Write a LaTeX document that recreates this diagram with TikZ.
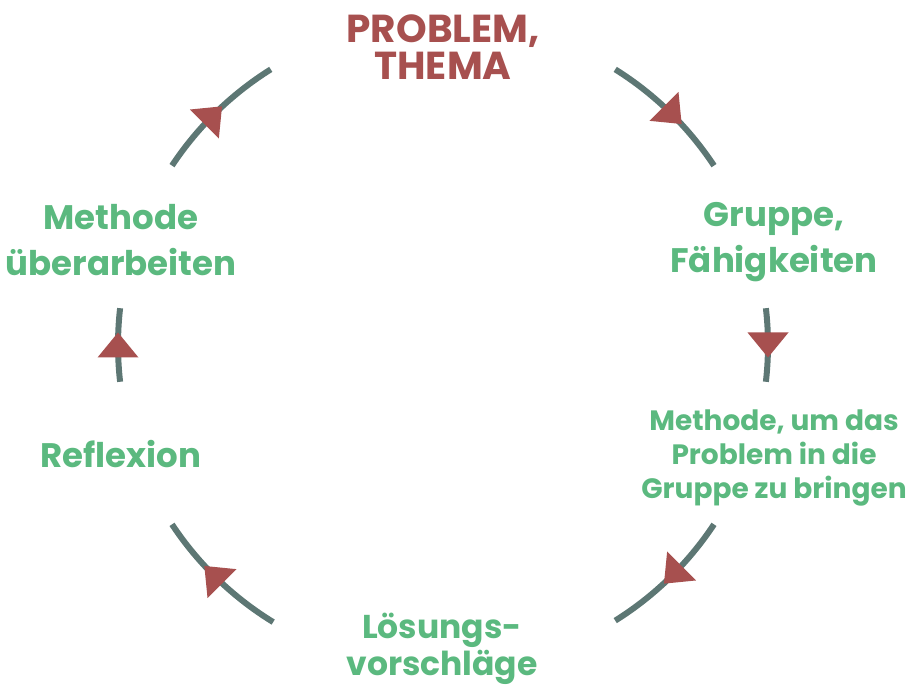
\documentclass[tikz,border=0pt]{standalone}
\usepackage{fontspec}
\setmainfont{Poppins}
\definecolor{gris}{HTML}{5D7774}
\definecolor{rojo}{HTML}{A7504F}
\definecolor{verde}{HTML}{5BB97F}
\tikzset{
  ciclo/.style={line width=6pt, draw=gris},
  flecha/.style={fill=rojo},
  etiqueta/.style={font=\bfseries\fontsize{34}{46}\selectfont, text=verde, align=center, inner sep=0pt},
  titulo/.style={etiqueta, font=\bfseries\fontsize{39}{37}\selectfont, text=rojo},
  detalle/.style={etiqueta, font=\bfseries\fontsize{28}{34}\selectfont}
}
\begin{document}
\begin{tikzpicture}[x=1pt,y=1pt]
  \useasboundingbox (0,0) rectangle (913,690);
  \coordinate (centro) at (443,345);

  % Dibujar los arcos del ciclo
  \foreach \a/\b in {58/33.5, 6.5/-6.5, -33.5/-58, -121.5/-146.5, 186.5/173.5, 146.5/122}
    \draw[ciclo] ([shift={(\a:325)}]centro) arc[start angle=\a, end angle=\b, radius=325];

  % Dibujar las flechas
  \begin{scope}[shift={(centro)}]
    \foreach \a in {45,0,-45,-135,180,135}
      \fill[flecha, shift={(\a:325)}, rotate={\a-90}] (12.5,0) -- (-12.5,20.5) -- (-12.5,-20.5) -- cycle;
  \end{scope}

  % Textos
  \node[titulo] (problema) at (443,643) {PROBLEM,\\THEMA};
  \node[etiqueta] (gruppe) at (774,448) {Gruppe,\\Fähigkeiten};
  \node[detalle] (methode) at (774,232) {Methode, um das\\Problem in die\\Gruppe zu bringen};
  \node[etiqueta, font=\bfseries\fontsize{33}{37}\selectfont] (loesung) at (442,41) {Lösungs-\\vorschläge};
  \node[etiqueta] (reflexion) at (121,236) {Reflexion};
  \node[etiqueta] (ueberarbeiten) at (121,450) {Methode\\überarbeiten};
\end{tikzpicture}
\end{document}
